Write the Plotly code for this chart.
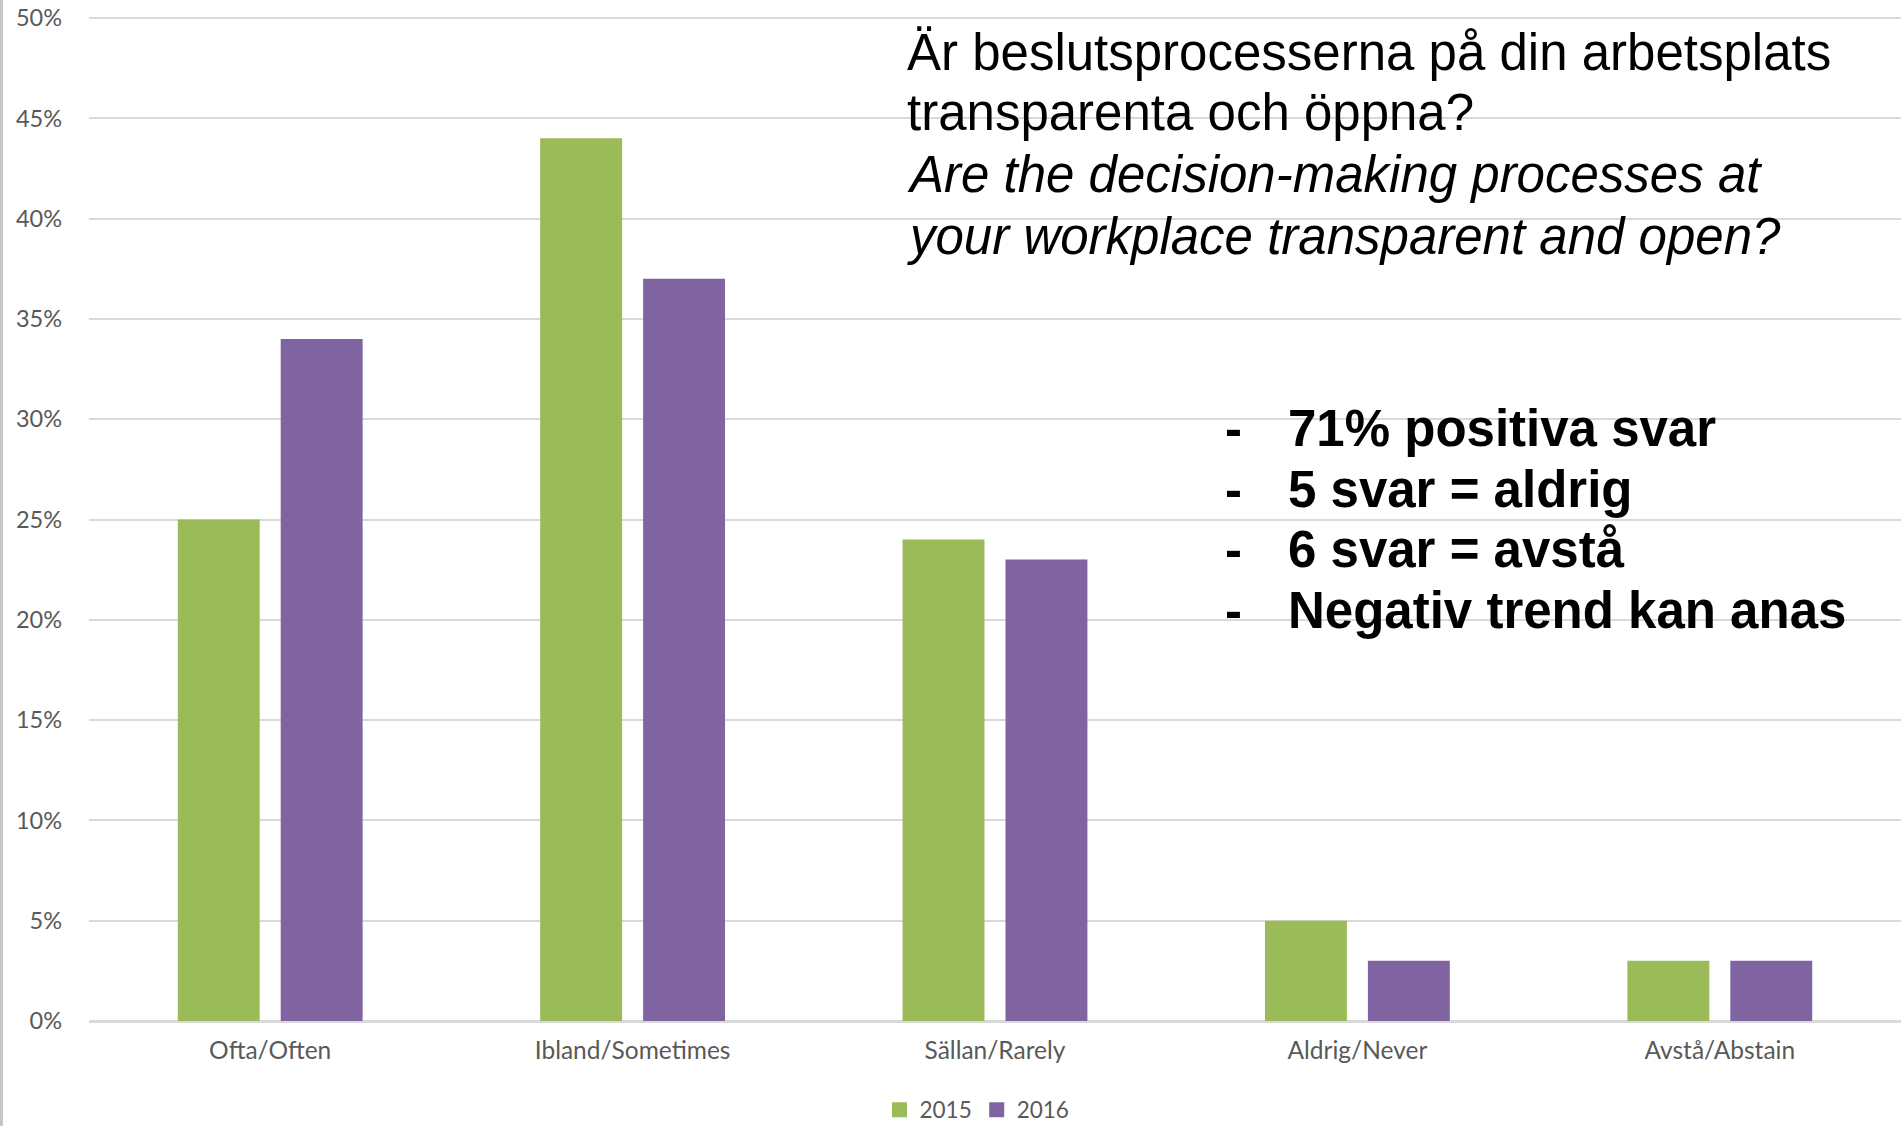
import plotly.graph_objects as go

categories = ["Ofta/Often", "Ibland/Sometimes", "Sällan/Rarely", "Aldrig/Never", "Avstå/Abstain"]
values_2015 = [25, 44, 24, 5, 3]
values_2016 = [34, 37, 23, 3, 3]
series_names = ["2015", "2016"]
series_colors = ["#9bbb59", "#8064a2"]
tick_vals = [0, 5, 10, 15, 20, 25, 30, 35, 40, 45, 50]
tick_text = ["0%", "5%", "10%", "15%", "20%", "25%", "30%", "35%", "40%", "45%", "50%"]

title_lines = [
    "Är beslutsprocesserna på din arbetsplats",
    "transparenta och öppna?",
    "<i>Are the decision-making processes at</i>",
    "<i>your workplace transparent and open?</i>",
]
bullet_lines = [
    "71% positiva svar",
    "5 svar = aldrig",
    "6 svar = avstå",
    "Negativ trend kan anas",
]

W, H = 1901, 1126
L, R, T, B = 89, 0, 16, 105
pw, ph = W - L - R, H - T - B
y_top = 50 + 2 * 50 / (ph - 2)   # keep the 50% gridline just inside the plot


def px_x(x):
    return (x - L) / pw


def px_y(y):
    return 1 - (y - T) / ph


fig = go.Figure()
for name, vals, col in zip(series_names, [values_2015, values_2016], series_colors):
    fig.add_trace(go.Bar(x=categories, y=vals, name=name, showlegend=False,
                         marker=dict(color=col, line=dict(width=0))))
# legend entries with square swatches
for name, col in zip(series_names, series_colors):
    fig.add_trace(go.Scatter(x=[None], y=[None], mode="markers", name=name,
                             marker=dict(symbol="square", size=15, color=col)))

fig.update_layout(
    width=W, height=H,
    margin=dict(l=L, r=R, t=T, b=B, pad=0, autoexpand=False),
    paper_bgcolor="white", plot_bgcolor="white",
    barmode="group", bargap=0.432, bargroupgap=0.204,
    font=dict(family="Lato, Carlito, Calibri, sans-serif", color="#595959", size=23),
    showlegend=True,
    legend=dict(orientation="h", x=px_x(977), xanchor="center",
                y=px_y(1110), yanchor="middle",
                font=dict(size=22.5, color="#595959"), itemwidth=30,
                tracegroupgap=0, bgcolor="rgba(0,0,0,0)"),
)
fig.update_xaxes(showgrid=False, showline=False, zeroline=False,
                 tickfont=dict(size=24.5, color="#595959"), ticks="",
                 ticklabelstandoff=12)
fig.update_yaxes(range=[0, y_top], tickvals=tick_vals, ticktext=tick_text,
                 showgrid=True, gridcolor="#d9d9d9", gridwidth=2,
                 zeroline=True, zerolinecolor="#d9d9d9", zerolinewidth=3,
                 showline=False, ticks="", tickfont=dict(size=23.5, color="#595959"),
                 ticklabelstandoff=26)

title_font = dict(family="Liberation Sans, Arial, sans-serif", size=51, color="black")
title_centers = [52, 113, 175, 236]
for txt, yc in zip(title_lines, title_centers):
    fig.add_annotation(xref="paper", yref="paper", x=px_x(905), y=px_y(yc),
                       xanchor="left", yanchor="middle", align="left",
                       showarrow=False, text=txt, font=title_font)

bullet_centers = [428, 489, 549, 610]
for txt, yc in zip(bullet_lines, bullet_centers):
    fig.add_annotation(xref="paper", yref="paper", x=px_x(1223), y=px_y(yc),
                       xanchor="left", yanchor="middle", align="left",
                       showarrow=False, text="<b>-</b>", font=title_font)
    fig.add_annotation(xref="paper", yref="paper", x=px_x(1286), y=px_y(yc),
                       xanchor="left", yanchor="middle", align="left",
                       showarrow=False, text="<b>" + txt + "</b>", font=title_font)

# slide edge strip on the far left
fig.add_shape(type="rect", xref="paper", yref="paper",
              x0=px_x(0), x1=px_x(3), y0=px_y(H), y1=px_y(0),
              fillcolor="#c9c5c1", line=dict(width=0), layer="above")

fig.write_html("out.html",
               config={"displayModeBar": False},
               post_script="document.body.style.margin='0px';"
                           "document.body.style.overflow='hidden';")
